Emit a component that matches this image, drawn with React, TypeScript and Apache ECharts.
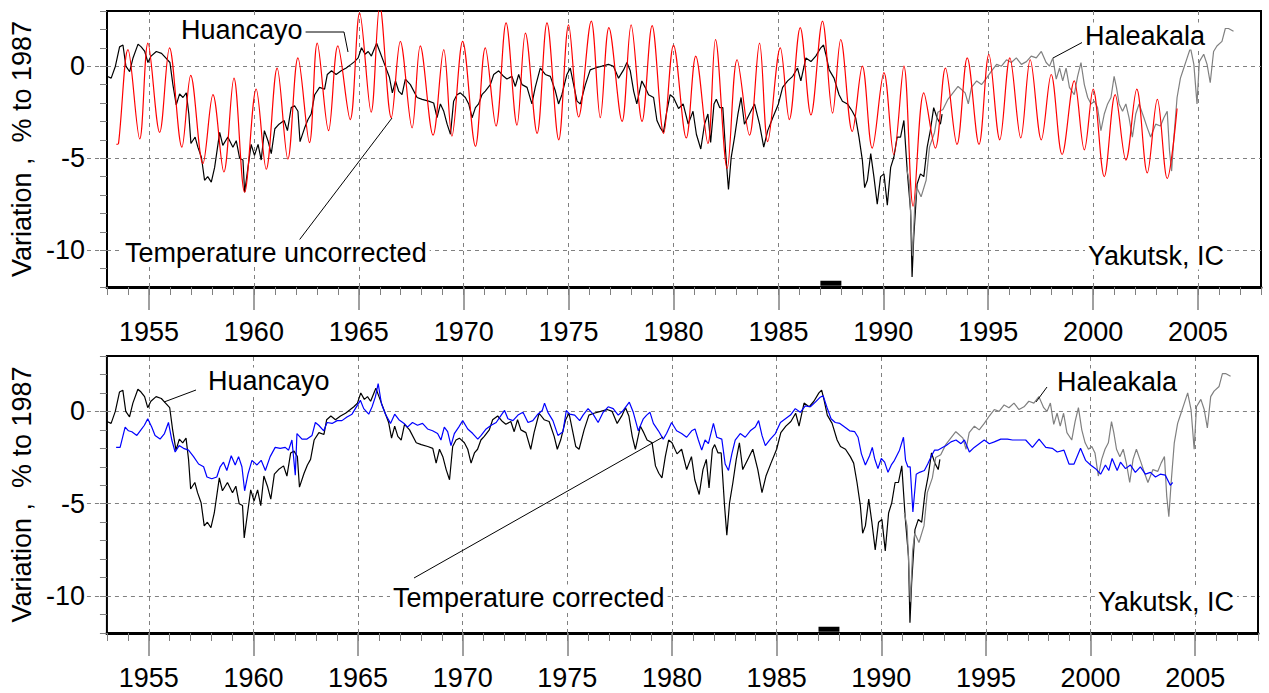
import React, { useEffect, useRef } from "react";
import * as echarts from "echarts";

const FONT = "'Liberation Sans', Arial, sans-serif";

const X_MIN = 1953;
const X_MAX = 2008;
const Y_MIN = -12;
const Y_MAX = 3;
const MAJOR_YEARS = [1955, 1960, 1965, 1970, 1975, 1980, 1985, 1990, 1995, 2000, 2005];
const MINOR_YEARS = Array.from({ length: X_MAX - X_MIN + 1 }, (_, i) => X_MIN + i);
const MAJOR_VALUES = [-10, -5, 0];
const MINOR_VALUES = Array.from({ length: Y_MAX - Y_MIN + 1 }, (_, i) => Y_MIN + i);

const Y_NAME = "Variation ,  % to 1987";

// Huancayo neutron monitor (black), shared by both panels
const HUANCAYO: number[][] = [
  [1953.0, -0.55], [1953.2, -0.65], [1953.4, 0.0], [1953.6, 1.05], [1953.76, 1.15], [1953.9, 0.0],
  [1954.08, -0.3], [1954.24, 0.45], [1954.48, 1.2], [1954.63, 1.05], [1954.8, 0.8], [1954.95, 0.2],
  [1955.1, 0.55], [1955.35, 0.8], [1955.6, 0.7], [1955.8, 0.45], [1956.0, 0.2], [1956.14, -1.0],
  [1956.3, -2.1], [1956.46, -1.5], [1956.62, -1.7], [1956.78, -1.45], [1956.9, -2.6], [1957.0, -4.2],
  [1957.2, -3.85], [1957.33, -4.4], [1957.5, -4.95], [1957.65, -6.2], [1957.8, -6.0], [1957.97, -6.3],
  [1958.13, -5.5], [1958.37, -3.6], [1958.52, -4.3], [1958.76, -3.85], [1959.0, -4.4], [1959.16, -4.05],
  [1959.32, -5.0], [1959.48, -5.1], [1959.56, -6.85], [1959.72, -5.5], [1959.87, -4.25], [1960.03, -4.85],
  [1960.2, -4.25], [1960.35, -5.1], [1960.5, -3.5], [1960.67, -4.05], [1960.83, -4.75], [1961.0, -3.4],
  [1961.2, -3.15], [1961.44, -2.95], [1961.6, -3.5], [1961.78, -2.25], [1961.94, -2.15], [1962.1, -2.45],
  [1962.2, -4.1], [1962.42, -3.35], [1962.58, -2.9], [1962.73, -2.6], [1962.9, -1.55], [1963.13, -1.15],
  [1963.37, -1.25], [1963.5, -0.45], [1963.7, -0.25], [1963.92, -0.45], [1964.16, -0.25], [1964.4, -0.1],
  [1964.63, 0.1], [1964.8, 0.25], [1964.97, 0.45], [1965.13, 1.0], [1965.3, 0.65], [1965.45, 0.8],
  [1965.6, 0.55], [1965.85, 1.25], [1966.0, 0.8], [1966.23, 0.1], [1966.46, -0.6], [1966.6, -1.45],
  [1966.75, -0.8], [1966.9, -1.35], [1967.06, -1.55], [1967.22, -0.7], [1967.46, -1.0], [1967.78, -1.7],
  [1968.02, -1.8], [1968.33, -1.9], [1968.57, -2.0], [1968.73, -2.8], [1968.89, -2.05], [1969.05, -2.45],
  [1969.21, -3.15], [1969.37, -3.7], [1969.52, -1.9], [1969.68, -1.55], [1969.84, -1.45], [1970.08, -1.7],
  [1970.24, -2.05], [1970.4, -2.8], [1970.56, -2.25], [1970.71, -2.05], [1970.87, -1.55], [1971.03, -1.35],
  [1971.27, -1.0], [1971.43, -0.45], [1971.67, -0.25], [1971.9, -0.55], [1972.06, -0.7], [1972.3, -0.55],
  [1972.46, -1.1], [1972.62, -0.45], [1972.78, -1.0], [1973.02, -1.15], [1973.25, -2.05], [1973.41, -1.15],
  [1973.65, -0.1], [1973.89, -0.45], [1974.13, -0.55], [1974.37, -1.35], [1974.52, -2.05], [1974.68, -1.55],
  [1974.92, -0.45], [1975.08, -0.1], [1975.24, -1.0], [1975.4, -1.9], [1975.56, -2.05], [1975.8, -1.0],
  [1976.03, -0.2], [1976.27, -0.1], [1976.59, 0.0], [1976.9, 0.1], [1977.14, 0.0], [1977.38, -0.65],
  [1977.62, -0.2], [1977.78, 0.2], [1977.94, -0.25], [1978.1, -1.35], [1978.25, -2.05], [1978.49, -0.8],
  [1978.65, -1.15], [1978.81, -1.55], [1979.05, -1.7], [1979.21, -2.95], [1979.37, -3.35], [1979.52, -3.6],
  [1979.68, -2.45], [1979.84, -1.55], [1980.0, -1.7], [1980.24, -2.3], [1980.46, -2.05], [1980.7, -3.15],
  [1980.93, -2.45], [1981.09, -3.7], [1981.3, -4.5], [1981.48, -3.15], [1981.64, -2.6], [1981.77, -4.15],
  [1981.93, -2.05], [1982.04, -1.8], [1982.2, -2.25], [1982.35, -2.25], [1982.51, -5.1], [1982.62, -6.7],
  [1982.75, -4.95], [1982.91, -3.85], [1983.07, -2.6], [1983.22, -1.7], [1983.38, -3.15], [1983.62, -2.6],
  [1983.86, -2.05], [1984.1, -3.15], [1984.3, -4.4], [1984.49, -3.5], [1984.73, -2.8], [1985.0, -2.05],
  [1985.2, -1.15], [1985.44, -0.8], [1985.68, -0.55], [1985.91, -0.1], [1986.07, -0.8], [1986.31, 0.45],
  [1986.55, 0.25], [1986.78, 0.55], [1987.02, 1.0], [1987.15, 1.15], [1987.26, 0.65], [1987.42, -0.2],
  [1987.65, -0.65], [1987.89, -1.55], [1988.05, -1.9], [1988.29, -2.05], [1988.52, -2.45], [1988.68, -2.8],
  [1988.84, -3.85], [1989.0, -5.1], [1989.11, -6.6], [1989.24, -6.2], [1989.4, -4.75], [1989.55, -6.0],
  [1989.71, -7.5], [1989.87, -6.0], [1990.03, -5.85], [1990.19, -7.55], [1990.35, -5.5], [1990.5, -4.95],
  [1990.66, -3.85], [1990.82, -3.85], [1990.98, -2.95], [1991.14, -5.7], [1991.3, -7.85], [1991.37, -11.45],
  [1991.45, -9.3], [1991.61, -6.4], [1991.77, -5.85], [1991.93, -6.0], [1992.09, -4.4], [1992.24, -3.5],
  [1992.4, -2.25], [1992.56, -2.8], [1992.72, -3.15], [1992.8, -2.6],
];

// Haleakala neutron monitor (grey), shared by both panels
const HALEAKALA: number[][] = [
  [1991.1, -5.5], [1991.23, -6.2], [1991.39, -10.3], [1991.5, -7.5], [1991.6, -6.6], [1991.8, -7.1],
  [1992.04, -6.2], [1992.2, -4.4], [1992.44, -3.6], [1992.6, -2.5], [1992.84, -2.35], [1993.08, -1.8],
  [1993.32, -1.45], [1993.56, -1.1], [1993.66, -1.2], [1993.9, -1.45], [1994.05, -2.05], [1994.2, -1.15],
  [1994.45, -0.8], [1994.68, -1.0], [1994.92, -0.65], [1995.16, -0.25], [1995.4, 0.1], [1995.63, 0.0],
  [1995.87, 0.35], [1996.1, 0.2], [1996.34, 0.45], [1996.58, 0.1], [1996.82, 0.25], [1997.05, 0.55],
  [1997.29, 0.45], [1997.53, 0.8], [1997.76, 0.2], [1997.92, 0.0], [1998.08, 0.45], [1998.24, -0.7],
  [1998.4, -0.1], [1998.55, -0.8], [1998.71, -0.1], [1998.87, -1.15], [1999.1, -1.55], [1999.26, -0.55],
  [1999.42, 0.2], [1999.58, -1.0], [1999.74, -1.7], [1999.9, -2.05], [2000.06, -1.9], [2000.21, -2.25],
  [2000.37, -3.5], [2000.53, -2.6], [2000.69, -2.05], [2000.85, -1.7], [2001.0, -0.55], [2001.11, -1.15],
  [2001.24, -2.05], [2001.4, -2.45], [2001.56, -2.05], [2001.71, -2.8], [2001.87, -3.85], [2002.03, -2.6],
  [2002.19, -2.05], [2002.42, -2.8], [2002.58, -3.35], [2002.74, -3.85], [2002.98, -3.15], [2003.21, -3.25],
  [2003.37, -2.8], [2003.53, -2.45], [2003.64, -4.6], [2003.74, -5.7], [2003.85, -3.85], [2004.0, -1.7],
  [2004.16, -0.65], [2004.32, -0.1], [2004.48, 0.45], [2004.64, 1.0], [2004.8, 0.1], [2004.95, -2.05],
  [2005.06, 0.25], [2005.27, 0.65], [2005.43, 0.1], [2005.58, -0.9], [2005.74, 0.8], [2005.9, 1.1],
  [2006.14, 1.35], [2006.3, 2.05], [2006.45, 2.05], [2006.69, 1.9],
];

// Yakutsk ionization chamber, temperature uncorrected (red): seasonal maxima and minima
const UNCORRECTED: number[][] = [
  [1953.45, -4.25], [1953.55, -4.2], [1954.0, 0.9], [1954.56, -3.95], [1954.95, 1.25], [1955.51, -3.6],
  [1955.98, 1.0], [1956.57, -4.4], [1956.99, -0.5], [1957.57, -5.3], [1958.05, -1.55], [1958.57, -5.75],
  [1959.05, -0.65], [1959.56, -6.85], [1960.11, -1.25], [1960.59, -5.6], [1961.11, -0.1], [1961.62, -5.05],
  [1962.1, 0.45], [1962.65, -4.15], [1963.02, 1.25], [1963.56, -3.5], [1964.0, 1.1], [1964.59, -2.9],
  [1965.04, 2.9], [1965.59, -2.5], [1966.0, 3.3], [1966.55, -2.8], [1966.98, 1.35], [1967.54, -3.35],
  [1967.93, 1.1], [1968.54, -3.75], [1969.05, 0.9], [1969.44, -3.8], [1969.95, 1.35], [1970.56, -4.35],
  [1971.03, 1.0], [1971.54, -3.25], [1972.02, 2.35], [1972.54, -3.2], [1972.94, 1.8], [1973.5, -3.65],
  [1973.97, 2.35], [1974.53, -4.0], [1975.0, 2.25], [1975.48, -2.75], [1976.08, 2.45], [1976.51, -2.8],
  [1976.92, 2.1], [1977.55, -3.0], [1977.98, 2.25], [1978.5, -3.0], [1978.98, 2.2], [1979.53, -3.65],
  [1980.0, 1.15], [1980.61, -3.9], [1981.06, 0.55], [1981.64, -4.2], [1982.0, 1.45], [1982.56, -5.55],
  [1983.03, 0.35], [1983.62, -3.75], [1984.1, 1.25], [1984.49, -4.1], [1985.09, 1.0], [1985.52, -2.9],
  [1986.04, 2.1], [1986.55, -2.65], [1987.1, 2.45], [1987.58, -2.55], [1987.97, 1.45], [1988.52, -3.55],
  [1989.0, 0.0], [1989.47, -4.45], [1990.03, -0.35], [1990.5, -4.8], [1990.98, 0.0], [1991.42, -7.6],
  [1991.93, -1.45], [1992.48, -4.45], [1992.96, -0.1], [1993.51, -4.25], [1994.0, 0.45], [1994.56, -4.25],
  [1995.03, 0.65], [1995.55, -4.0], [1996.03, 0.45], [1996.55, -3.9], [1997.0, 0.35], [1997.53, -4.0],
  [1998.0, -0.45], [1998.52, -4.8], [1999.1, -0.8], [1999.58, -4.55], [2000.0, -1.25], [2000.53, -6.0],
  [2001.05, -1.55], [2001.56, -5.1], [2002.08, -1.25], [2002.58, -5.8], [2003.06, -1.8], [2003.53, -6.1],
  [2004.0, -2.3],
];

// Yakutsk ionization chamber, temperature corrected (blue)
const CORRECTED: number[][] = [
  [1953.44, -1.95], [1953.63, -1.95], [1953.87, -0.85], [1954.03, -1.05], [1954.19, -1.1], [1954.43, -1.3],
  [1954.59, -1.05], [1954.79, -0.75], [1954.95, -0.4], [1955.14, -0.85], [1955.3, -1.3], [1955.54, -1.5],
  [1955.75, -1.2], [1955.94, -0.6], [1956.1, -1.55], [1956.26, -2.2], [1956.45, -1.85], [1956.66, -2.0],
  [1956.9, -2.1], [1957.14, -2.45], [1957.38, -2.85], [1957.62, -3.0], [1957.78, -3.55], [1958.01, -3.65],
  [1958.25, -3.55], [1958.41, -3.0], [1958.57, -2.75], [1958.73, -3.2], [1958.94, -2.4], [1959.13, -2.9],
  [1959.29, -2.45], [1959.45, -3.0], [1959.58, -4.3], [1959.74, -3.4], [1959.93, -2.65], [1960.17, -2.9],
  [1960.37, -2.65], [1960.57, -3.2], [1960.8, -2.45], [1961.04, -1.95], [1961.28, -2.0], [1961.52, -1.95],
  [1961.68, -2.1], [1961.84, -1.55], [1962.0, -3.45], [1962.08, -1.2], [1962.32, -1.5], [1962.56, -1.5],
  [1962.8, -1.3], [1962.96, -0.6], [1963.12, -0.75], [1963.36, -1.05], [1963.52, -0.6], [1963.76, -0.65],
  [1964.0, -0.5], [1964.23, -0.5], [1964.47, -0.3], [1964.71, -0.15], [1964.95, 0.3], [1965.11, 0.6],
  [1965.27, 0.15], [1965.51, -0.15], [1965.67, 0.25], [1965.83, 0.8], [1965.96, 1.5], [1966.12, 0.4],
  [1966.31, -0.15], [1966.55, -0.65], [1966.75, -0.15], [1966.95, -0.45], [1967.2, -0.65], [1967.36, -0.85],
  [1967.6, -0.6], [1967.84, -0.75], [1968.08, -0.65], [1968.32, -0.95], [1968.56, -1.05], [1968.8, -1.2],
  [1968.96, -1.55], [1969.12, -0.85], [1969.28, -1.1], [1969.44, -1.85], [1969.6, -1.2], [1969.81, -0.85],
  [1970.0, -0.5], [1970.24, -0.95], [1970.48, -1.2], [1970.72, -1.5], [1970.88, -1.3], [1971.12, -0.95],
  [1971.36, -0.75], [1971.6, -0.6], [1971.84, -0.2], [1972.0, 0.05], [1972.16, -0.4], [1972.4, -0.5],
  [1972.64, -0.2], [1972.88, -0.05], [1973.12, -0.6], [1973.35, -0.5], [1973.59, -0.15], [1973.8, 0.05],
  [1973.91, 0.45], [1974.07, -0.05], [1974.31, -0.5], [1974.55, -1.3], [1974.79, -1.1], [1974.95, 0.05],
  [1975.11, -0.15], [1975.35, -0.2], [1975.59, -0.5], [1975.75, -0.2], [1975.99, 0.15], [1976.23, -0.15],
  [1976.47, -0.6], [1976.71, -0.05], [1976.95, 0.25], [1977.19, 0.15], [1977.43, -0.2], [1977.67, 0.05],
  [1977.96, 0.5], [1978.15, -0.05], [1978.39, -1.05], [1978.63, -0.4], [1978.79, -0.2], [1978.95, -0.05],
  [1979.11, -0.65], [1979.35, -1.05], [1979.58, -1.5], [1979.74, -1.2], [1979.98, -0.6], [1980.22, -1.05],
  [1980.46, -1.2], [1980.7, -1.4], [1980.94, -1.05], [1981.1, -0.95], [1981.26, -1.55], [1981.42, -2.1],
  [1981.58, -1.55], [1981.74, -1.75], [1981.98, -0.65], [1982.14, -1.4], [1982.38, -1.5], [1982.54, -2.85],
  [1982.7, -3.2], [1982.86, -2.3], [1983.02, -1.55], [1983.26, -1.2], [1983.5, -1.4], [1983.74, -1.05],
  [1983.98, -0.85], [1984.14, -0.5], [1984.3, -1.3], [1984.46, -1.85], [1984.7, -1.5], [1984.94, -1.2],
  [1985.18, -0.6], [1985.42, -0.4], [1985.66, -0.2], [1985.89, 0.15], [1986.13, -0.05], [1986.37, 0.3],
  [1986.61, 0.25], [1986.85, 0.5], [1987.06, 0.75], [1987.22, 0.85], [1987.41, 0.2], [1987.6, -0.4],
  [1987.8, -0.6], [1988.02, -0.65], [1988.25, -0.85], [1988.49, -1.05], [1988.73, -1.1], [1988.89, -1.4],
  [1989.05, -2.3], [1989.24, -2.9], [1989.44, -2.4], [1989.57, -1.95], [1989.68, -2.55], [1989.84, -3.1],
  [1990.0, -2.55], [1990.16, -2.75], [1990.32, -3.3], [1990.48, -2.9], [1990.63, -2.65], [1990.87, -2.1],
  [1991.06, -1.4], [1991.16, -2.65], [1991.27, -3.0], [1991.38, -3.0], [1991.51, -5.45], [1991.67, -3.4],
  [1991.83, -3.3], [1992.06, -3.2], [1992.22, -2.85], [1992.38, -2.45], [1992.54, -2.1], [1992.7, -2.1],
  [1992.86, -2.0], [1993.1, -1.85], [1993.33, -1.65], [1993.57, -1.55], [1993.81, -1.75], [1993.97, -1.55],
  [1994.21, -2.2], [1994.44, -1.95], [1994.68, -1.75], [1994.92, -1.55], [1995.16, -1.75], [1995.4, -1.65],
  [1995.71, -1.5], [1996.03, -1.5], [1996.27, -1.55], [1996.59, -1.55], [1996.9, -1.55], [1997.22, -1.95],
  [1997.54, -1.5], [1997.86, -1.95], [1998.17, -2.0], [1998.41, -2.2], [1998.73, -2.1], [1998.97, -2.85],
  [1999.21, -2.85], [1999.52, -2.0], [1999.76, -2.65], [2000.0, -2.9], [2000.24, -3.1], [2000.48, -3.4],
  [2000.71, -2.9], [2000.87, -3.2], [2001.03, -2.55], [2001.27, -3.2], [2001.43, -2.75], [2001.67, -3.1],
  [2001.9, -2.9], [2002.14, -3.3], [2002.38, -3.0], [2002.62, -3.4], [2002.86, -3.3], [2003.1, -3.55],
  [2003.33, -3.4], [2003.57, -3.45], [2003.81, -4.0], [2003.92, -3.85],
];

// Reference period marker (1987)
const BASE_PERIOD: number[][] = [[1987.0, -11.8], [1988.0, -11.8]];

const GRIDS = [
  { left: 107, top: 11, right: 8, height: 276 },
  { left: 105, top: 356, right: 11, height: 277 },
];

function App() {
  const ref = useRef<HTMLDivElement>(null);
  useEffect(() => {
    if (!ref.current) return;
    const chart = echarts.init(ref.current, null, { renderer: "svg" });
    const W = 1269;
    const grid = GRIDS.map((g) => ({
      ...g,
      show: true,
      borderColor: "#000",
      borderWidth: 2,
      backgroundColor: "transparent",
    }));
    const xAxis: any[] = [];
    const yAxis: any[] = [];
    GRIDS.forEach((g, gi) => {
      const gw = W - g.left - g.right;
      const base = { type: "value", gridIndex: gi, min: X_MIN, max: X_MAX, position: "bottom" };
      xAxis.push({
        ...base,
        axisLine: { show: true, onZero: false, lineStyle: { color: "#000", width: 3 } },
        axisTick: { show: true, customValues: MINOR_YEARS, length: 8, lineStyle: { color: "#808080", width: 1 } },
        axisLabel: { show: false },
        splitLine: { show: false },
      });
      xAxis.push({
        ...base,
        axisLine: { show: false, onZero: false },
        axisTick: { show: true, customValues: MAJOR_YEARS, length: 23, lineStyle: { color: "#808080", width: 1.5 } },
        axisLabel: {
          show: true,
          customValues: MAJOR_YEARS,
          formatter: (v: number) => String(v),
          fontSize: 27,
          fontFamily: FONT,
          color: "#000",
          margin: 31,
        },
        splitLine: { show: false },
      });
      xAxis.push({
        ...base,
        axisLine: { show: false, onZero: false },
        axisTick: {
          show: true,
          inside: true,
          customValues: MAJOR_YEARS,
          length: g.height,
          lineStyle: { color: "#808080", width: 1, type: [4, 4] },
        },
        axisLabel: { show: false },
        splitLine: { show: false },
      });
      const ybase = { type: "value", gridIndex: gi, min: Y_MIN, max: Y_MAX, position: "left" };
      yAxis.push({
        ...ybase,
        axisLine: { show: false, onZero: false },
        axisTick: { show: true, customValues: MINOR_VALUES, length: 7, lineStyle: { color: "#808080", width: 1 } },
        axisLabel: { show: false },
        splitLine: { show: false },
      });
      yAxis.push({
        ...ybase,
        axisLine: { show: false, onZero: false },
        axisTick: {
          show: true,
          customValues: MAJOR_VALUES,
          length: 20,
          lineStyle: { color: "#808080", width: 1, type: [4, 4] },
        },
        axisLabel: {
          show: true,
          customValues: MAJOR_VALUES,
          formatter: (v: number) => String(v),
          fontSize: 27,
          fontFamily: FONT,
          color: "#000",
          margin: 22,
        },
        splitLine: { show: false },
        name: Y_NAME,
        nameLocation: "middle",
        nameRotate: 90,
        nameGap: 70,
        nameTextStyle: { fontSize: 27, fontFamily: FONT, color: "#000" },
      });
      yAxis.push({
        ...ybase,
        axisLine: { show: false, onZero: false },
        axisTick: {
          show: true,
          inside: true,
          customValues: MAJOR_VALUES,
          length: gw,
          lineStyle: { color: "#808080", width: 1, type: [4, 4] },
        },
        axisLabel: { show: false },
        splitLine: { show: false },
      });
    });

    const line = (name: string, data: number[][], color: string, gi: number, extra: any = {}) => ({
      type: "line",
      name,
      data,
      xAxisIndex: gi * 3,
      yAxisIndex: gi * 3,
      showSymbol: false,
      symbol: "none",
      silent: true,
      clip: true,
      lineStyle: { color, width: 1.2 },
      itemStyle: { color },
      ...extra,
    });

    const series = [
      line("Huancayo", HUANCAYO, "#000000", 0),
      line("Haleakala", HALEAKALA, "#808080", 0),
      line("Temperature uncorrected", UNCORRECTED, "#ff0000", 0, { smooth: 0.35 }),
      line("1987", BASE_PERIOD, "#000000", 0, { lineStyle: { color: "#000", width: 5 } }),
      line("Huancayo", HUANCAYO, "#000000", 1),
      line("Haleakala", HALEAKALA, "#808080", 1),
      line("Temperature corrected", CORRECTED, "#0000ff", 1),
      line("1987", BASE_PERIOD, "#000000", 1, { lineStyle: { color: "#000", width: 5 } }),
    ];

    const txt = (text: string, x: number, y: number) => ({
      type: "text",
      z: 100,
      silent: true,
      style: {
        text,
        x,
        y,
        font: `27px ${FONT}`,
        fill: "#000",
        textAlign: "left",
        textVerticalAlign: "middle",
        align: "left",
        verticalAlign: "middle",
        backgroundColor: "#fff",
        padding: [0, 3],
      },
    });
    const seg = (x1: number, y1: number, x2: number, y2: number) => ({
      type: "line",
      z: 99,
      silent: true,
      shape: { x1, y1, x2, y2 },
      style: { stroke: "#000", lineWidth: 1 },
    });

    const graphic = [
      txt("Huancayo", 178, 30),
      {
        type: "polyline",
        z: 99,
        silent: true,
        shape: { points: [[305, 32], [344, 32], [348, 52]] },
        style: { stroke: "#000", lineWidth: 1, fill: "none" },
      },
      txt("Temperature uncorrected", 122, 253),
      seg(297, 243, 392, 118),
      txt("Haleakala", 1082, 36),
      seg(1083, 42, 1053, 58),
      txt("Yakutsk, IC", 1085, 256),
      txt("Huancayo", 205, 381),
      seg(196, 390, 164, 402),
      txt("Temperature corrected", 390, 598),
      seg(414, 578, 663, 437),
      txt("Haleakala", 1054, 382),
      seg(1047, 387, 1036, 402),
      txt("Yakutsk, IC", 1095, 602),
    ];

    chart.setOption({
      animation: false,
      backgroundColor: "#fff",
      textStyle: { fontFamily: FONT },
      grid,
      xAxis,
      yAxis,
      series,
      graphic,
    });
    return () => chart.dispose();
  }, []);
  return (
    <div
      ref={ref}
      style={{ position: "absolute", left: 0, top: 0, width: 1269, height: 693, background: "#fff" }}
    />
  );
}

export default App;
